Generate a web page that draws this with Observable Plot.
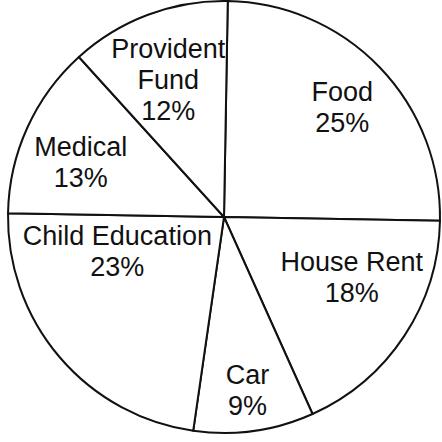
<!DOCTYPE html>
<html><head><meta charset="utf-8">
<script src="https://cdn.jsdelivr.net/npm/d3@7"></script>
<script src="https://cdn.jsdelivr.net/npm/@observablehq/plot@0.6"></script>
<style>body{margin:0;background:#fff} svg{display:block}</style>
</head><body><div id="chart"></div>
<script>
const categories = ["Food", "House Rent", "Car", "Child Education", "Medical", "Provident Fund"];
const labelLines = ["Food", "House Rent", "Car", "Child Education", "Medical", "Provident\nFund"];
const shares = [25, 18, 9, 23, 13, 12];

// layout (styling) — small pixel nudges away from the slice centroid
const rotationDeg = 1;
const labelRadius = 0.7;
const nudges = [[9, -6], [1, -24], [2, 22], [8, -65], [-6, 7], [-3, 3]];
const R = 216;

const rot = rotationDeg * Math.PI / 180;
const arcs = d3.pie().sort(null).startAngle(rot).endAngle(rot + 2 * Math.PI)(shares);

const rows = categories.map((c, i) => {
  const a = (arcs[i].startAngle + arcs[i].endAngle) / 2;
  return {
    category: c,
    text: labelLines[i] + "\n" + shares[i] + "%",
    x: labelRadius * Math.sin(a) + nudges[i][0] / R,
    y: labelRadius * Math.cos(a) - nudges[i][1] / R
  };
});

function pieMark(index, scales, values, dimensions, context) {
  const sx = scales.x, sy = scales.y;
  const cx = sx(0), cy = sy(0), r = sx(1) - cx;
  const arc = d3.arc().innerRadius(0).outerRadius(r);
  const g = d3.create("svg:g").attr("transform", `translate(${cx},${cy})`);
  g.selectAll("path").data(arcs).join("path")
    .attr("d", arc)
    .attr("fill", "white")
    .attr("stroke", "#111")
    .attr("stroke-width", 2)
    .attr("stroke-linejoin", "round");
  return g.node();
}

const chart = Plot.plot({
  width: 442,
  height: 442,
  margin: 0,
  style: {background: "white"},
  x: {domain: [-1, 1], range: [8, 440], axis: null},
  y: {domain: [-1, 1], range: [433, 1], axis: null},
  marks: [
    pieMark,
    Plot.text(rows, {
      x: "x", y: "y", text: "text",
      fontSize: 27,
      fontFamily: "Liberation Sans, Arial, sans-serif",
      lineHeight: 1.15,
      fill: "#111",
      textAnchor: "middle"
    })
  ]
});
document.getElementById("chart").append(chart);
</script>
</body></html>
